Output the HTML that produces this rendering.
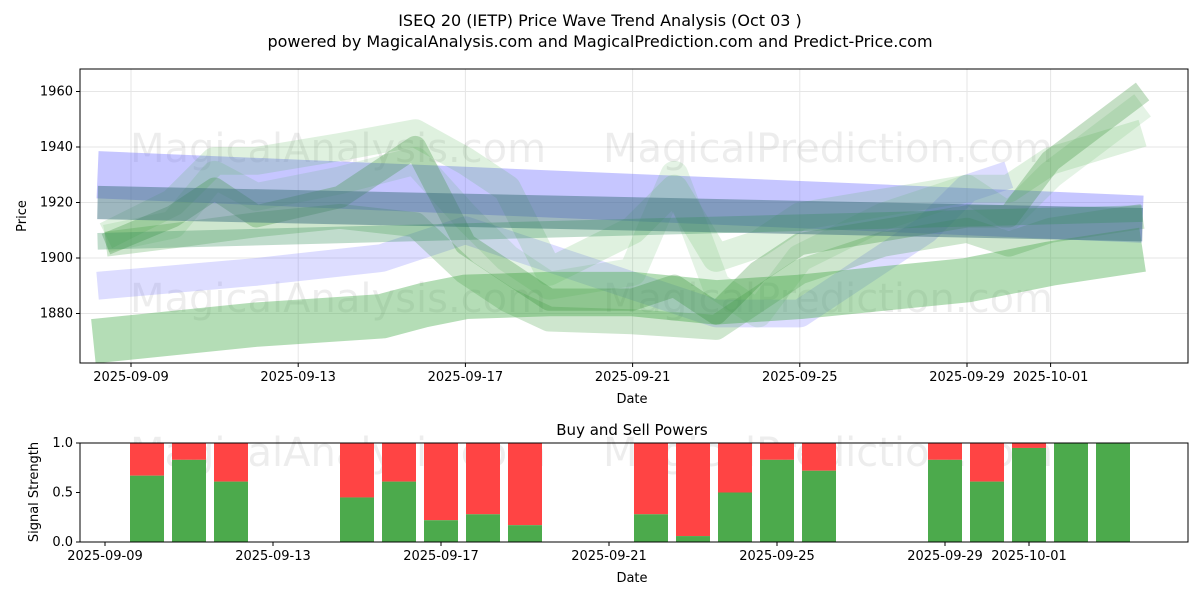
<!DOCTYPE html>
<html><head><meta charset="utf-8"><style>
body{margin:0;background:#fff;font-family:"DejaVu Sans","Liberation Sans",sans-serif}
svg text{font-family:"DejaVu Sans","Liberation Sans",sans-serif}
</style></head><body>
<svg id="chart" width="1200" height="600" xmlns="http://www.w3.org/2000/svg">
<rect width="1200" height="600" fill="#fff"/>
<text x="600" y="26" text-anchor="middle" font-size="16">ISEQ 20 (IETP) Price Wave Trend Analysis (Oct 03 )</text>
<text x="600" y="47" text-anchor="middle" font-size="16">powered by MagicalAnalysis.com and MagicalPrediction.com and Predict-Price.com</text>
<g id="topchart"></g>
<g id="bottomchart"></g>
</svg>
<script>
const dayLabels=["2025-09-09","2025-09-13","2025-09-17","2025-09-21","2025-09-25","2025-09-29","2025-10-01"];
const dayTickOffsets=[0,4,8,12,16,20,22];
const priceTicks=[1880,1900,1920,1940,1960];
const waveDays=[-0.6,1,2,3,5,6.8,8,9,10,12,13,14,15,16,18,20,21,22,24.2];
const waveA=[1905,1915,1925,1915,1922,1940,1905,1895,1885,1885,1890,1880,1895,1905,1910,1915,1915,1935,1960];
const waveB=[1908,1920,1935,1935,1940,1945,1935,1925,1895,1910,1925,1900,1905,1915,1920,1925,1925,1935,1945];
const waveC=[1905,1908,1910,1912,1915,1912,1895,1885,1878,1877,1876,1875,1885,1895,1905,1910,1905,1910,1915];
const waveD=[1907,1912,1930,1922,1928,1935,1915,1900,1890,1895,1930,1890,1880,1900,1915,1925,1915,1930,1955];
const bandDays=[-0.9,3,6,7,8,10,12,14,16,18,20,21,22,24.2];
const lowBand=[1870,1876,1879,1883,1886,1887,1887,1884,1886,1889,1892,1895,1898,1903];
const blueDays=[-0.8,24.2];
const blueUpper=[1930,1914];
const blueMid=[1920,1912];
const blueLowDays=[-0.8,3,6,8,10,13,14,15,16,17,19,20,21];
const blueLow=[1890,1895,1900,1910,1900,1885,1880,1880,1880,1890,1910,1925,1930];
const greenStraight=[1906,1916];
const barDays=[1,2,3,6,7,8,9,10,13,14,15,16,17,20,21,22,23,24];
const buyPower=[0.67,0.83,0.61,0.45,0.61,0.22,0.28,0.17,0.28,0.06,0.5,0.83,0.72,0.83,0.61,0.95,1.0,1.0];
const signalTicks=[0,0.5,1.0];

const NS="http://www.w3.org/2000/svg";
function mk(tag,attrs,parent,txt){const e=document.createElementNS(NS,tag);for(const k in attrs)e.setAttribute(k,attrs[k]);if(txt!==undefined)e.textContent=txt;parent.appendChild(e);return e;}
const topG=document.getElementById('topchart'),botG=document.getElementById('bottomchart');
const X0=80,X1=1188,Y0=69,Y1=363;
const xT=d=>131+d*41.8;
const yT=v=>258-(v-1900)*2.775;
const xB=d=>105+d*42;
const yB=v=>542-v*99;

mk('rect',{x:X0,y:Y0,width:X1-X0,height:Y1-Y0,fill:'#fff'},topG);
const clip=mk('clipPath',{id:'c1'},topG);mk('rect',{x:X0,y:Y0,width:X1-X0,height:Y1-Y0},clip);
const grid=mk('g',{},topG);


priceTicks.forEach(v=>mk('line',{x1:X0,x2:X1,y1:yT(v),y2:yT(v),stroke:'#e6e6e6'},grid));
dayTickOffsets.forEach(d=>mk('line',{x1:xT(d),x2:xT(d),y1:Y0,y2:Y1,stroke:'#e6e6e6'},grid));
const wm=mk('g',{fill:'#000','fill-opacity':0.07,'font-size':40},topG);
mk('text',{x:130,y:162},wm,'MagicalAnalysis.com');
mk('text',{x:603,y:162},wm,'MagicalPrediction.com');
mk('text',{x:130,y:312},wm,'MagicalAnalysis.com');
mk('text',{x:603,y:312},wm,'MagicalPrediction.com');
const marks=mk('g',{'clip-path':'url(#c1)'},topG);
function band(days,vals,w,color,op,name){
  const pts=days.map((d,i)=>xT(d)+','+yT(vals[i])).join(' ');
  const p=mk('polyline',{points:pts,fill:'none',stroke:color,'stroke-width':w*2.775,'stroke-opacity':op,'stroke-linejoin':'round'},marks);
  
  
}
band(blueLowDays,blueLow,10,'#6666ff',0.22,'blue-low-band');
band(blueDays,blueUpper,17,'#6a6aff',0.38,'blue-upper-band');
band(bandDays,lowBand,16,'#4caf50',0.42,'green-low-band');
band(waveDays,waveD,10,'#4caf50',0.15,'green-wave-d');
band(waveDays,waveB,10,'#4caf50',0.18,'green-wave-b');
band(waveDays,waveC,9,'#3a9a3a',0.25,'green-wave-c');
band(waveDays,waveA,8,'#2e8b2e',0.28,'green-wave-a');
band(blueDays,blueMid,12,'#3d6f80',0.5,'blue-mid-band');
band(blueDays,greenStraight,6,'#2e8b57',0.3,'green-straight-band');
mk('rect',{x:X0,y:Y0,width:X1-X0,height:Y1-Y0,fill:'none',stroke:'#000'},topG);
priceTicks.forEach(v=>{mk('line',{x1:X0-4,x2:X0,y1:yT(v),y2:yT(v),stroke:'#000'},topG);
 const t=mk('text',{x:X0-7,y:yT(v)+4,'text-anchor':'end','font-size':13},topG,v);
 });
dayTickOffsets.forEach((d,i)=>{mk('line',{x1:xT(d),x2:xT(d),y1:Y1,y2:Y1+4,stroke:'#000'},topG);
 const t=mk('text',{x:xT(d),y:Y1+18,'text-anchor':'middle','font-size':13},topG,dayLabels[i]);
 });
mk('text',{x:632,y:403,'text-anchor':'middle','font-size':13,},topG,'Date');
mk('text',{x:26,y:216,'text-anchor':'middle','font-size':13,transform:'rotate(-90 26 216)',},topG,'Price');

const BY0=443,BY1=542;
mk('text',{x:632,y:435,'text-anchor':'middle','font-size':15,},botG,'Buy and Sell Powers');
const wm2=mk('g',{fill:'#000','fill-opacity':0.07,'font-size':40},botG);
mk('text',{x:130,y:466},wm2,'MagicalAnalysis.com');
mk('text',{x:603,y:466},wm2,'MagicalPrediction.com');
barDays.forEach((d,i)=>{
  const b=buyPower[i],x=xB(d)-17;
  const s=mk('rect',{x:x,y:yB(1),width:34,height:yB(b)-yB(1),fill:'#ff4444'},botG);
  
  const g=mk('rect',{x:x,y:yB(b),width:34,height:yB(0)-yB(b),fill:'#4caa4c'},botG);
  
});
mk('rect',{x:X0,y:BY0,width:X1-X0,height:BY1-BY0,fill:'none',stroke:'#000'},botG);
signalTicks.forEach(v=>{mk('line',{x1:X0-4,x2:X0,y1:yB(v),y2:yB(v),stroke:'#000'},botG);
 const t=mk('text',{x:X0-7,y:yB(v)+4,'text-anchor':'end','font-size':13},botG,v.toFixed(1));
 });
dayTickOffsets.forEach((d,i)=>{mk('line',{x1:xB(d),x2:xB(d),y1:BY1,y2:BY1+4,stroke:'#000'},botG);
 const t=mk('text',{x:xB(d),y:BY1+18,'text-anchor':'middle','font-size':13},botG,dayLabels[i]);
 });
mk('text',{x:632,y:582,'text-anchor':'middle','font-size':13,},botG,'Date');
mk('text',{x:38,y:492,'text-anchor':'middle','font-size':13,transform:'rotate(-90 38 492)',},botG,'Signal Strength');
</script>
</body></html>
